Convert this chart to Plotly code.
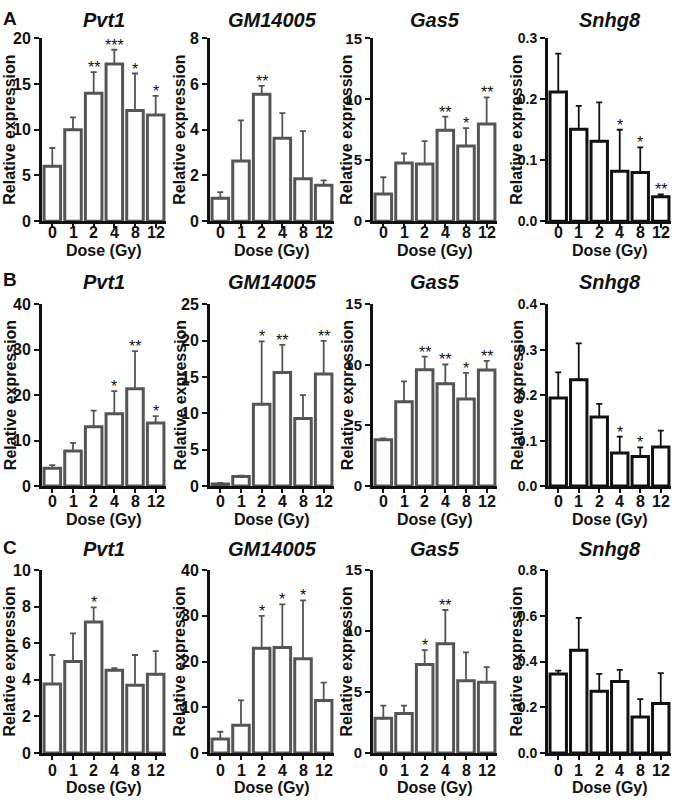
import plotly.graph_objects as go

W, H = 679, 804
FONT = "Liberation Sans, Arial, sans-serif"
INK = "#111111"
GREY = "#555555"

doses = ["0", "1", "2", "4", "8", "12"]
genes = ["Pvt1", "GM14005", "Gas5", "Snhg8"]
rows = ["A", "B", "C"]

# row A
pvt1_a = [6.0, 10.0, 14.0, 17.2, 12.1, 11.6]
pvt1_a_sd = [2.0, 1.35, 2.3, 1.55, 4.05, 2.1]
pvt1_a_sig = ["", "", "**", "***", "*", "*"]
gm_a = [1.0, 2.63, 5.55, 3.63, 1.85, 1.57]
gm_a_sd = [0.27, 1.78, 0.37, 1.1, 2.09, 0.21]
gm_a_sig = ["", "", "**", "", "", ""]
gas5_a = [2.22, 4.77, 4.69, 7.45, 6.16, 7.98]
gas5_a_sd = [1.38, 0.78, 1.87, 1.12, 1.47, 2.17]
gas5_a_sig = ["", "", "", "**", "*", "**"]
snhg8_a = [0.212, 0.151, 0.131, 0.082, 0.080, 0.040]
snhg8_a_sd = [0.063, 0.038, 0.064, 0.068, 0.041, 0.004]
snhg8_a_sig = ["", "", "", "*", "*", "**"]

# row B
pvt1_b = [3.93, 7.7, 13.06, 15.9, 21.4, 13.9]
pvt1_b_sd = [0.67, 1.8, 3.54, 5.0, 8.3, 1.5]
pvt1_b_sig = ["", "", "", "*", "**", "*"]
gm_b = [0.3, 1.3, 11.25, 15.6, 9.3, 15.4]
gm_b_sd = [0.15, 0.13, 8.65, 3.8, 3.2, 4.55]
gm_b_sig = ["", "", "*", "**", "", "**"]
gas5_b = [3.83, 6.96, 9.6, 8.44, 7.18, 9.58]
gas5_b_sd = [0.11, 1.67, 1.08, 1.59, 2.15, 0.75]
gas5_b_sig = ["", "", "**", "**", "*", "**"]
snhg8_b = [0.194, 0.234, 0.152, 0.073, 0.065, 0.086]
snhg8_b_sd = [0.056, 0.080, 0.029, 0.036, 0.020, 0.036]
snhg8_b_sig = ["", "", "", "*", "*", ""]

# row C
pvt1_c = [3.77, 5.0, 7.16, 4.52, 3.71, 4.30]
pvt1_c_sd = [1.59, 1.54, 0.8, 0.12, 1.65, 1.27]
pvt1_c_sig = ["", "", "*", "", "", ""]
gm_c = [3.07, 6.07, 22.9, 23.07, 20.6, 11.5]
gm_c_sd = [1.57, 5.43, 7.1, 9.43, 12.8, 3.9]
gm_c_sig = ["", "", "*", "*", "*", ""]
gas5_c = [2.84, 3.24, 7.26, 8.97, 5.92, 5.81]
gas5_c_sd = [1.04, 0.64, 1.18, 2.76, 2.33, 1.24]
gas5_c_sig = ["", "", "*", "**", "", ""]
snhg8_c = [0.346, 0.449, 0.270, 0.313, 0.157, 0.217]
snhg8_c_sd = [0.014, 0.142, 0.076, 0.051, 0.079, 0.132]
snhg8_c_sig = ["", "", "", "", "", ""]

# y axis ticks per panel
yticks = [
    [[0, 5, 10, 15, 20], [0, 2, 4, 6, 8], [0, 5, 10, 15], [0, 0.1, 0.2, 0.3]],
    [[0, 10, 20, 30, 40], [0, 5, 10, 15, 20, 25], [0, 5, 10, 15], [0, 0.1, 0.2, 0.3, 0.4]],
    [[0, 2, 4, 6, 8, 10], [0, 10, 20, 30, 40], [0, 5, 10, 15], [0, 0.2, 0.4, 0.6, 0.8]],
]

panels = [
    [(pvt1_a, pvt1_a_sd, pvt1_a_sig), (gm_a, gm_a_sd, gm_a_sig),
     (gas5_a, gas5_a_sd, gas5_a_sig), (snhg8_a, snhg8_a_sd, snhg8_a_sig)],
    [(pvt1_b, pvt1_b_sd, pvt1_b_sig), (gm_b, gm_b_sd, gm_b_sig),
     (gas5_b, gas5_b_sd, gas5_b_sig), (snhg8_b, snhg8_b_sd, snhg8_b_sig)],
    [(pvt1_c, pvt1_c_sd, pvt1_c_sig), (gm_c, gm_c_sd, gm_c_sig),
     (gas5_c, gas5_c_sd, gas5_c_sig), (snhg8_c, snhg8_c_sd, snhg8_c_sig)],
]

# layout in pixels
col_px = [(42, 166), (210, 334), (373, 497), (548, 671)]
row_px = [(30, 217), (302, 488), (574, 761)]
title_py = [11, 279, 552]
letter_py = [10, 277, 551]
ytitle_px = [10, 180, 347, 517]
ytick_size = [16, 16, 15, 14]
xlabel_off = [12, 16, 18]
xtitle_off = [30, 34, 35]


def fx(p):
    return p / W


def fy(p):
    return 1 - p / H


def font(size, italic=False):
    return dict(family=FONT, size=size, color=INK, weight="bold",
                style="italic" if italic else "normal")


fig = go.Figure()
annotations = []
layout = {}

k = 0
for r, row in enumerate(panels):
    top_px, bot_px = row_px[r]
    annotations.append(dict(
        text=rows[r], x=fx(1), y=fy(letter_py[r]), xref="paper", yref="paper",
        xanchor="left", yanchor="middle", showarrow=False, font=font(19)))
    for c, (means, sds, sigs) in enumerate(row):
        k += 1
        sx = "" if k == 1 else str(k)
        edge = INK if c == 3 else GREY
        left_px, right_px = col_px[c]
        fig.add_trace(
            go.Bar(
                x=doses,
                y=means,
                marker=dict(color="white", line=dict(color=edge, width=3)),
                error_y=dict(type="data", symmetric=False, array=sds,
                             arrayminus=[0] * len(sds), color=edge,
                             thickness=1.8, width=3),
                xaxis="x" + sx,
                yaxis="y" + sx,
                showlegend=False,
                hoverinfo="skip",
            )
        )
        ticks = yticks[r][c]
        layout["xaxis" + sx] = dict(
            domain=[fx(left_px), fx(right_px)],
            anchor="y" + sx,
            type="category",
            range=[-0.5, 5.5],
            showline=True, linecolor=INK, linewidth=3,
            ticks="outside", ticklen=4, tickwidth=2, tickcolor=INK,
            showticklabels=False, showgrid=False, zeroline=False,
        )
        layout["yaxis" + sx] = dict(
            domain=[fy(bot_px), fy(top_px)],
            anchor="x" + sx,
            range=[0, ticks[-1]],
            tickvals=ticks,
            tickformat=".1f" if c == 3 else "",
            showline=True, linecolor=INK, linewidth=3,
            ticks="outside", ticklen=5, tickwidth=2, tickcolor=INK,
            tickfont=font(ytick_size[c]), showgrid=False, zeroline=False,
        )
        # dose labels under the axis, set a little tighter than plotly's default
        for i, d in enumerate(doses):
            annotations.append(dict(
                text=d, x=i, y=fy(bot_px + xlabel_off[r]), xref="x" + sx, yref="paper",
                xanchor="center", yanchor="middle", showarrow=False, font=font(16)))
        mid_x = fx((left_px + right_px) / 2)
        annotations.append(dict(
            text=genes[c], x=mid_x, y=fy(title_py[r]), xref="paper", yref="paper",
            xanchor="center", yanchor="middle", showarrow=False,
            font=font(20, italic=True)))
        annotations.append(dict(
            text="Dose (Gy)", x=mid_x, y=fy(bot_px + xtitle_off[r]), xref="paper",
            yref="paper", xanchor="center", yanchor="middle", showarrow=False,
            font=font(16)))
        annotations.append(dict(
            text="Relative expression", x=fx(ytitle_px[c]),
            y=fy((top_px + bot_px) / 2), xref="paper", yref="paper",
            xanchor="center", yanchor="middle", textangle=-90, showarrow=False,
            font=font(16)))
        # significance marks sit on top of each error bar
        for i, (m, s, sig) in enumerate(zip(means, sds, sigs)):
            if sig:
                annotations.append(dict(
                    text=sig, x=i, y=m + s, xref="x" + sx, yref="y" + sx,
                    xanchor="center", yanchor="bottom", yshift=-6,
                    showarrow=False, font=dict(family=FONT, size=16, color=INK)))

fig.update_layout(
    width=W,
    height=H,
    margin=dict(l=0, r=0, t=0, b=0),
    paper_bgcolor="white",
    plot_bgcolor="white",
    bargap=0.2,
    annotations=annotations,
    **layout,
)

fig.write_html(
    "out.html",
    config={"displayModeBar": False},
    post_script="document.body.style.margin = '0';",
)
